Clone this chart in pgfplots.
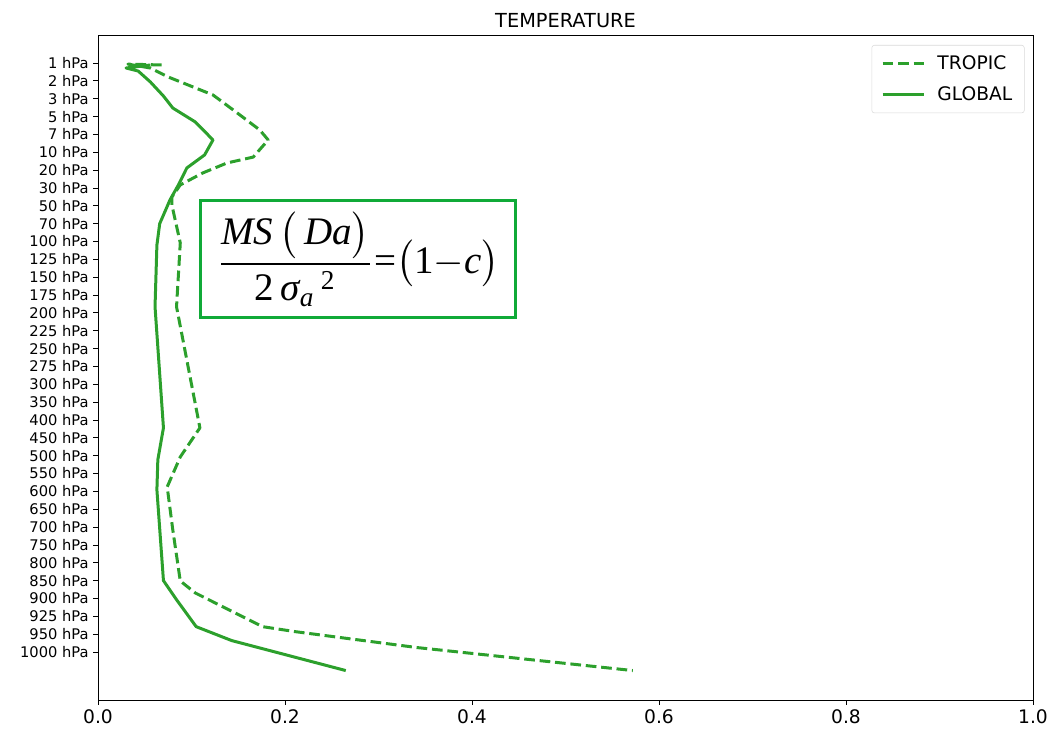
\documentclass[border=0pt]{standalone}
\usepackage{pgfplots}
\pgfplotsset{compat=1.18}
\usepackage{fontspec}
\usepackage{amsmath}
\usepackage{graphicx}
\setmainfont{DejaVu Sans}
\newfontfamily\tnr{Liberation Serif}
\definecolor{tabgreen}{HTML}{2CA02C}
\definecolor{boxgreen}{RGB}{16,170,56}
\begin{document}
\begin{tikzpicture}
\begin{axis}[
  at={(0,0)}, anchor=south west,
  scale only axis, width=701.25pt, height=498.75pt,
  xmin=0, xmax=1, ymin=-1.57, ymax=35.69, y dir=reverse,
  xtick={0,0.2,0.4,0.6,0.8,1.0},
  /pgf/number format/.cd, fixed, fixed zerofill, precision=1, assume math mode=true, /pgfplots/.cd,
  xticklabel style={font=\fontsize{14}{16}\selectfont},
  ytick={0,...,33},
  yticklabels={1 hPa,2 hPa,3 hPa,5 hPa,7 hPa,10 hPa,20 hPa,30 hPa,50 hPa,70 hPa,100 hPa,125 hPa,150 hPa,175 hPa,200 hPa,225 hPa,250 hPa,275 hPa,300 hPa,350 hPa,400 hPa,450 hPa,500 hPa,550 hPa,600 hPa,650 hPa,700 hPa,750 hPa,800 hPa,850 hPa,900 hPa,925 hPa,950 hPa,1000 hPa},
  yticklabel style={font=\fontsize{11}{12}\selectfont},
  tick pos=left, tick align=outside, major tick length=3.5pt,
  tick style={line width=0.6pt, black},
  axis line style={line width=0.6pt, black},
  title={TEMPERATURE},
  title style={font=\fontsize{14.5}{16}\selectfont, anchor=base, yshift=-0.5pt},
  legend style={at={(0.991,0.985)}, anchor=north east, draw=black!15, rounded corners=2pt,
    font=\fontsize{14}{17}\selectfont, cells={anchor=west}, inner xsep=7pt, inner ysep=6pt, row sep=7pt},
  legend image code/.code={\draw[#1] (0pt,0pt) -- (31pt,0pt); \path (38pt,0pt);},
]
\addplot[tabgreen, line width=2.25pt, line join=round, dash pattern=on 8pt off 3.6pt] coordinates {
(0.068,0.11) (0.032,0.06) (0.056,0.28) (0.075,0.78) (0.123,1.79) (0.149,2.80) (0.173,3.75) (0.182,4.31)
(0.166,5.27) (0.138,5.60) (0.112,6.16) (0.088,6.83) (0.079,7.51) (0.079,7.95) (0.088,10.08) (0.084,13.66)
(0.109,20.44) (0.088,22.07) (0.074,23.75) (0.080,26.16) (0.088,29.02) (0.104,29.69) (0.176,31.58)
(0.211,31.86) (0.341,32.75) (0.572,34.04)
};
\addlegendentry{TROPIC}
\addplot[tabgreen, line width=2.25pt, line join=round] coordinates {
(0.056,0.11) (0.030,0.28) (0.043,0.45) (0.056,1.06) (0.070,1.85) (0.080,2.52) (0.104,3.30) (0.123,4.31)
(0.114,5.15) (0.095,5.88) (0.086,6.83) (0.077,7.67) (0.066,9.0) (0.063,10.2) (0.061,13.66) (0.070,20.44) (0.064,22.23)
(0.063,23.91) (0.070,29.00) (0.084,30.07) (0.105,31.58) (0.143,32.36) (0.265,34.04)
};
\addlegendentry{GLOBAL}
\node[draw=boxgreen, line width=2.25pt, minimum width=236pt, minimum height=88pt, inner sep=0pt]
  at (axis cs:0.278,10.98)
  {\resizebox{212pt}{!}{$\dfrac{\text{\tnr\itshape MS}\,\bigl(\,\text{\tnr\itshape Da}\bigr)}{\text{\tnr 2}\,{\text{\tnr\itshape σ}_{\text{\tnr\itshape a}}}^{\,\text{\tnr 2}}}\text{\tnr =}\bigl(\text{\tnr 1}{-}\text{\tnr\itshape c}\bigr)$}};
\end{axis}
\pgfresetboundingbox
\path[use as bounding box] (-73.5pt,-21.75pt) rectangle (717pt,525pt);
\end{tikzpicture}
\end{document}
